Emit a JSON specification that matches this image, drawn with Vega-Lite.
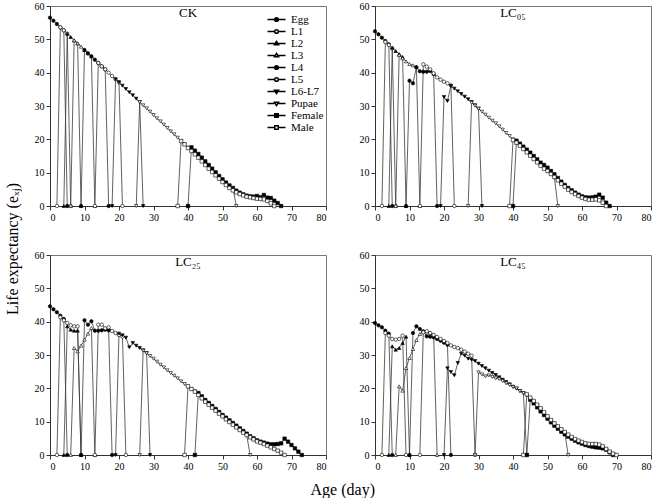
{
"$schema": "https://vega.github.io/schema/vega-lite/v6.json",
"padding": {"left": 4, "top": 0, "right": 1, "bottom": 0},
"config": {
 "font": "Liberation Serif",
 "view": {"stroke": "#777", "strokeWidth": 1},
 "axis": {"grid": false, "labelFont": "Liberation Serif", "labelFontSize": 10, "labelColor": "#000", "domainColor": "#333", "tickColor": "#333", "tickSize": 4, "labelPadding": 2},
 "title": {"font": "Liberation Serif", "fontWeight": "normal", "color": "#000"}
},
"datasets": {
"CK": [
{"s":"Egg","x":0,"y":56.5},{"s":"Egg","x":1,"y":55.6},{"s":"Egg","x":2,"y":54.6},{"s":"Egg","x":3,"y":53.6},{"s":"Egg","x":4,"y":52.7},{"s":"Egg","x":5,"y":0},
{"s":"L1","x":2,"y":0},{"s":"L1","x":3,"y":53.6},{"s":"L1","x":4,"y":52.7},{"s":"L1","x":5,"y":51.7},{"s":"L1","x":6,"y":0},
{"s":"L2","x":4,"y":0},{"s":"L2","x":5,"y":51.7},{"s":"L2","x":6,"y":50.7},{"s":"L2","x":7,"y":49.7},{"s":"L2","x":8,"y":48.8},{"s":"L2","x":9,"y":0},
{"s":"L3","x":6,"y":0},{"s":"L3","x":7,"y":49.7},{"s":"L3","x":8,"y":48.8},{"s":"L3","x":9,"y":47.8},{"s":"L3","x":10,"y":46.8},{"s":"L3","x":11,"y":45.8},{"s":"L3","x":12,"y":44.9},{"s":"L3","x":13,"y":0},
{"s":"L4","x":9,"y":0},{"s":"L4","x":10,"y":46.8},{"s":"L4","x":11,"y":45.8},{"s":"L4","x":12,"y":44.9},{"s":"L4","x":13,"y":43.9},{"s":"L4","x":14,"y":42.9},{"s":"L4","x":15,"y":41.9},{"s":"L4","x":16,"y":41.0},{"s":"L4","x":17,"y":0},
{"s":"L5","x":13,"y":0},{"s":"L5","x":14,"y":42.9},{"s":"L5","x":15,"y":41.9},{"s":"L5","x":16,"y":41.0},{"s":"L5","x":17,"y":40.0},{"s":"L5","x":18,"y":39.0},{"s":"L5","x":19,"y":38.0},{"s":"L5","x":20,"y":37.1},{"s":"L5","x":21,"y":0},
{"s":"L6-L7","x":18,"y":0},{"s":"L6-L7","x":19,"y":38.0},{"s":"L6-L7","x":20,"y":37.1},{"s":"L6-L7","x":21,"y":36.1},{"s":"L6-L7","x":22,"y":35.1},{"s":"L6-L7","x":23,"y":34.1},{"s":"L6-L7","x":24,"y":33.2},{"s":"L6-L7","x":25,"y":32.2},{"s":"L6-L7","x":26,"y":31.2},{"s":"L6-L7","x":27,"y":0},
{"s":"Pupae","x":25,"y":0},{"s":"Pupae","x":26,"y":31.2},{"s":"Pupae","x":27,"y":30.2},{"s":"Pupae","x":28,"y":29.3},{"s":"Pupae","x":29,"y":28.3},{"s":"Pupae","x":30,"y":27.3},{"s":"Pupae","x":31,"y":26.3},{"s":"Pupae","x":32,"y":25.4},{"s":"Pupae","x":33,"y":24.4},{"s":"Pupae","x":34,"y":23.4},{"s":"Pupae","x":35,"y":22.4},{"s":"Pupae","x":36,"y":21.5},{"s":"Pupae","x":37,"y":20.5},{"s":"Pupae","x":38,"y":19.5},{"s":"Pupae","x":39,"y":18.5},{"s":"Pupae","x":40,"y":17.5},{"s":"Pupae","x":41,"y":16.6},{"s":"Pupae","x":42,"y":15.6},{"s":"Pupae","x":43,"y":14.6},{"s":"Pupae","x":44,"y":13.6},{"s":"Pupae","x":45,"y":12.6},{"s":"Pupae","x":46,"y":11.6},{"s":"Pupae","x":47,"y":10.6},{"s":"Pupae","x":48,"y":9.6},{"s":"Pupae","x":49,"y":8.7},{"s":"Pupae","x":50,"y":7.8},{"s":"Pupae","x":51,"y":7.0},{"s":"Pupae","x":52,"y":6.2},{"s":"Pupae","x":53,"y":5.5},{"s":"Pupae","x":54,"y":0},
{"s":"Female","x":40,"y":0},{"s":"Female","x":41,"y":17.6},{"s":"Female","x":42,"y":16.6},{"s":"Female","x":43,"y":15.6},{"s":"Female","x":44,"y":14.5},{"s":"Female","x":45,"y":13.4},{"s":"Female","x":46,"y":12.3},{"s":"Female","x":47,"y":11.2},{"s":"Female","x":48,"y":10.1},{"s":"Female","x":49,"y":9.0},{"s":"Female","x":50,"y":8.0},{"s":"Female","x":51,"y":7.0},{"s":"Female","x":52,"y":6.1},{"s":"Female","x":53,"y":5.3},{"s":"Female","x":54,"y":4.6},{"s":"Female","x":55,"y":4.0},{"s":"Female","x":56,"y":3.5},{"s":"Female","x":57,"y":3.1},{"s":"Female","x":58,"y":2.9},{"s":"Female","x":59,"y":2.8},{"s":"Female","x":60,"y":3.0},{"s":"Female","x":61,"y":2.6},{"s":"Female","x":62,"y":3.3},{"s":"Female","x":63,"y":2.5},{"s":"Female","x":64,"y":2.4},{"s":"Female","x":65,"y":1.6},{"s":"Female","x":66,"y":0.9},{"s":"Female","x":67,"y":0},
{"s":"Male","x":37,"y":0},{"s":"Male","x":38,"y":19.5},{"s":"Male","x":39,"y":18.5},{"s":"Male","x":40,"y":17.4},{"s":"Male","x":41,"y":16.5},{"s":"Male","x":42,"y":15.5},{"s":"Male","x":43,"y":14.5},{"s":"Male","x":44,"y":13.4},{"s":"Male","x":45,"y":12.3},{"s":"Male","x":46,"y":11.2},{"s":"Male","x":47,"y":10.2},{"s":"Male","x":48,"y":9.2},{"s":"Male","x":49,"y":8.2},{"s":"Male","x":50,"y":7.2},{"s":"Male","x":51,"y":6.3},{"s":"Male","x":52,"y":5.4},{"s":"Male","x":53,"y":4.7},{"s":"Male","x":54,"y":4.1},{"s":"Male","x":55,"y":3.6},{"s":"Male","x":56,"y":3.2},{"s":"Male","x":57,"y":2.8},{"s":"Male","x":58,"y":2.6},{"s":"Male","x":59,"y":2.4},{"s":"Male","x":60,"y":2.2},{"s":"Male","x":61,"y":2.1},{"s":"Male","x":62,"y":2.0},{"s":"Male","x":63,"y":1.5},{"s":"Male","x":64,"y":0.8},{"s":"Male","x":65,"y":0}
],
"LC05": [
{"s":"Egg","x":0,"y":52.4},{"s":"Egg","x":1,"y":51.5},{"s":"Egg","x":2,"y":50.5},{"s":"Egg","x":3,"y":49.5},{"s":"Egg","x":4,"y":48.5},{"s":"Egg","x":5,"y":0},
{"s":"L1","x":2,"y":0},{"s":"L1","x":3,"y":49.2},{"s":"L1","x":4,"y":48.3},{"s":"L1","x":5,"y":47.3},{"s":"L1","x":6,"y":0},
{"s":"L2","x":4,"y":0},{"s":"L2","x":5,"y":47.5},{"s":"L2","x":6,"y":46.5},{"s":"L2","x":7,"y":45.6},{"s":"L2","x":8,"y":44.7},{"s":"L2","x":9,"y":0},
{"s":"L3","x":6,"y":0},{"s":"L3","x":7,"y":45.3},{"s":"L3","x":8,"y":44.3},{"s":"L3","x":9,"y":43.4},{"s":"L3","x":10,"y":42.6},{"s":"L3","x":11,"y":42.2},{"s":"L3","x":12,"y":41.8},{"s":"L3","x":13,"y":0},
{"s":"L4","x":9,"y":0},{"s":"L4","x":10,"y":37.6},{"s":"L4","x":11,"y":36.8},{"s":"L4","x":12,"y":41.6},{"s":"L4","x":13,"y":40.4},{"s":"L4","x":14,"y":40.3},{"s":"L4","x":15,"y":40.3},{"s":"L4","x":16,"y":40.5},{"s":"L4","x":17,"y":39.6},{"s":"L4","x":18,"y":0},
{"s":"L5","x":13,"y":0},{"s":"L5","x":14,"y":42.5},{"s":"L5","x":15,"y":41.8},{"s":"L5","x":16,"y":41.0},{"s":"L5","x":17,"y":39.8},{"s":"L5","x":18,"y":38.6},{"s":"L5","x":19,"y":37.9},{"s":"L5","x":20,"y":37.3},{"s":"L5","x":21,"y":36.8},{"s":"L5","x":22,"y":36.2},{"s":"L5","x":23,"y":0},
{"s":"L6-L7","x":19,"y":0},{"s":"L6-L7","x":20,"y":32.7},{"s":"L6-L7","x":21,"y":31.5},{"s":"L6-L7","x":22,"y":36.0},{"s":"L6-L7","x":23,"y":35.2},{"s":"L6-L7","x":24,"y":34.4},{"s":"L6-L7","x":25,"y":33.6},{"s":"L6-L7","x":26,"y":32.8},{"s":"L6-L7","x":27,"y":32.0},{"s":"L6-L7","x":28,"y":31.2},{"s":"L6-L7","x":29,"y":30.2},{"s":"L6-L7","x":30,"y":29.2},{"s":"L6-L7","x":31,"y":0},
{"s":"Pupae","x":27,"y":0},{"s":"Pupae","x":28,"y":31.0},{"s":"Pupae","x":29,"y":30.1},{"s":"Pupae","x":30,"y":29.2},{"s":"Pupae","x":31,"y":28.3},{"s":"Pupae","x":32,"y":27.4},{"s":"Pupae","x":33,"y":26.5},{"s":"Pupae","x":34,"y":25.6},{"s":"Pupae","x":35,"y":24.8},{"s":"Pupae","x":36,"y":23.9},{"s":"Pupae","x":37,"y":22.9},{"s":"Pupae","x":38,"y":21.9},{"s":"Pupae","x":39,"y":21.0},{"s":"Pupae","x":40,"y":20.0},{"s":"Pupae","x":41,"y":19.2},{"s":"Pupae","x":42,"y":18.2},{"s":"Pupae","x":43,"y":17.2},{"s":"Pupae","x":44,"y":16.2},{"s":"Pupae","x":45,"y":15.2},{"s":"Pupae","x":46,"y":14.2},{"s":"Pupae","x":47,"y":13.2},{"s":"Pupae","x":48,"y":12.2},{"s":"Pupae","x":49,"y":11.3},{"s":"Pupae","x":50,"y":10.5},{"s":"Pupae","x":51,"y":9.6},{"s":"Pupae","x":52,"y":8.6},{"s":"Pupae","x":53,"y":0},
{"s":"Female","x":40,"y":0},{"s":"Female","x":41,"y":19.6},{"s":"Female","x":42,"y":18.7},{"s":"Female","x":43,"y":17.8},{"s":"Female","x":44,"y":16.9},{"s":"Female","x":45,"y":16.0},{"s":"Female","x":46,"y":15.0},{"s":"Female","x":47,"y":14.0},{"s":"Female","x":48,"y":13.0},{"s":"Female","x":49,"y":12.3},{"s":"Female","x":50,"y":11.5},{"s":"Female","x":51,"y":10.5},{"s":"Female","x":52,"y":9.5},{"s":"Female","x":53,"y":8.4},{"s":"Female","x":54,"y":7.3},{"s":"Female","x":55,"y":6.3},{"s":"Female","x":56,"y":5.4},{"s":"Female","x":57,"y":4.7},{"s":"Female","x":58,"y":4.0},{"s":"Female","x":59,"y":3.4},{"s":"Female","x":60,"y":2.9},{"s":"Female","x":61,"y":2.6},{"s":"Female","x":62,"y":2.5},{"s":"Female","x":63,"y":2.6},{"s":"Female","x":64,"y":2.8},{"s":"Female","x":65,"y":3.4},{"s":"Female","x":66,"y":2.5},{"s":"Female","x":67,"y":1.0},{"s":"Female","x":68,"y":0},
{"s":"Male","x":39,"y":0},{"s":"Male","x":40,"y":19.8},{"s":"Male","x":41,"y":19.0},{"s":"Male","x":42,"y":18.1},{"s":"Male","x":43,"y":17.1},{"s":"Male","x":44,"y":16.1},{"s":"Male","x":45,"y":15.1},{"s":"Male","x":46,"y":14.1},{"s":"Male","x":47,"y":13.1},{"s":"Male","x":48,"y":12.1},{"s":"Male","x":49,"y":11.2},{"s":"Male","x":50,"y":10.5},{"s":"Male","x":51,"y":9.6},{"s":"Male","x":52,"y":8.7},{"s":"Male","x":53,"y":7.7},{"s":"Male","x":54,"y":6.7},{"s":"Male","x":55,"y":5.8},{"s":"Male","x":56,"y":4.9},{"s":"Male","x":57,"y":4.2},{"s":"Male","x":58,"y":3.6},{"s":"Male","x":59,"y":3.0},{"s":"Male","x":60,"y":2.5},{"s":"Male","x":61,"y":2.1},{"s":"Male","x":62,"y":1.9},{"s":"Male","x":63,"y":1.9},{"s":"Male","x":64,"y":2.0},{"s":"Male","x":65,"y":1.7},{"s":"Male","x":66,"y":1.0},{"s":"Male","x":67,"y":0}
],
"LC25": [
{"s":"Egg","x":0,"y":44.6},{"s":"Egg","x":1,"y":43.7},{"s":"Egg","x":2,"y":42.8},{"s":"Egg","x":3,"y":41.8},{"s":"Egg","x":4,"y":40.8},{"s":"Egg","x":5,"y":0},
{"s":"L1","x":2,"y":0},{"s":"L1","x":3,"y":41.3},{"s":"L1","x":4,"y":40.4},{"s":"L1","x":5,"y":39.6},{"s":"L1","x":6,"y":38.9},{"s":"L1","x":7,"y":38.6},{"s":"L1","x":8,"y":38.6},{"s":"L1","x":9,"y":0},
{"s":"L2","x":4,"y":0},{"s":"L2","x":5,"y":38.6},{"s":"L2","x":6,"y":37.6},{"s":"L2","x":7,"y":37.3},{"s":"L2","x":8,"y":37.3},{"s":"L2","x":9,"y":0},
{"s":"L3","x":6,"y":0},{"s":"L3","x":7,"y":32.1},{"s":"L3","x":8,"y":31.1},{"s":"L3","x":9,"y":32.8},{"s":"L3","x":10,"y":34.6},{"s":"L3","x":11,"y":36.4},{"s":"L3","x":12,"y":38.1},{"s":"L3","x":13,"y":0},
{"s":"L4","x":9,"y":0},{"s":"L4","x":10,"y":40.4},{"s":"L4","x":11,"y":39.1},{"s":"L4","x":12,"y":40.1},{"s":"L4","x":13,"y":37.3},{"s":"L4","x":14,"y":37.3},{"s":"L4","x":15,"y":37.4},{"s":"L4","x":16,"y":37.6},{"s":"L4","x":17,"y":37.4},{"s":"L4","x":18,"y":0},
{"s":"L5","x":13,"y":0},{"s":"L5","x":14,"y":39.1},{"s":"L5","x":15,"y":39.1},{"s":"L5","x":16,"y":38.0},{"s":"L5","x":17,"y":38.3},{"s":"L5","x":18,"y":37.2},{"s":"L5","x":19,"y":36.6},{"s":"L5","x":20,"y":36.0},{"s":"L5","x":21,"y":35.5},{"s":"L5","x":22,"y":0},
{"s":"L6-L7","x":19,"y":0},{"s":"L6-L7","x":20,"y":36.4},{"s":"L6-L7","x":21,"y":35.9},{"s":"L6-L7","x":22,"y":35.2},{"s":"L6-L7","x":23,"y":32.3},{"s":"L6-L7","x":24,"y":33.6},{"s":"L6-L7","x":25,"y":32.8},{"s":"L6-L7","x":26,"y":32.1},{"s":"L6-L7","x":27,"y":31.4},{"s":"L6-L7","x":28,"y":30.6},{"s":"L6-L7","x":29,"y":0},
{"s":"Pupae","x":26,"y":0},{"s":"Pupae","x":27,"y":31.3},{"s":"Pupae","x":28,"y":30.5},{"s":"Pupae","x":29,"y":29.7},{"s":"Pupae","x":30,"y":28.9},{"s":"Pupae","x":31,"y":28.0},{"s":"Pupae","x":32,"y":27.1},{"s":"Pupae","x":33,"y":26.3},{"s":"Pupae","x":34,"y":25.4},{"s":"Pupae","x":35,"y":24.6},{"s":"Pupae","x":36,"y":23.8},{"s":"Pupae","x":37,"y":23.0},{"s":"Pupae","x":38,"y":22.1},{"s":"Pupae","x":39,"y":21.3},{"s":"Pupae","x":40,"y":20.5},{"s":"Pupae","x":41,"y":19.8},{"s":"Pupae","x":42,"y":19.1},{"s":"Pupae","x":43,"y":18.3},{"s":"Pupae","x":44,"y":17.2},{"s":"Pupae","x":45,"y":16.1},{"s":"Pupae","x":46,"y":15.3},{"s":"Pupae","x":47,"y":14.4},{"s":"Pupae","x":48,"y":13.5},{"s":"Pupae","x":49,"y":12.7},{"s":"Pupae","x":50,"y":11.8},{"s":"Pupae","x":51,"y":11.0},{"s":"Pupae","x":52,"y":10.1},{"s":"Pupae","x":53,"y":9.3},{"s":"Pupae","x":54,"y":8.5},{"s":"Pupae","x":55,"y":7.7},{"s":"Pupae","x":56,"y":6.9},{"s":"Pupae","x":57,"y":6.1},{"s":"Pupae","x":58,"y":0},
{"s":"Female","x":42,"y":0},{"s":"Female","x":43,"y":18.6},{"s":"Female","x":44,"y":17.6},{"s":"Female","x":45,"y":16.5},{"s":"Female","x":46,"y":15.6},{"s":"Female","x":47,"y":14.7},{"s":"Female","x":48,"y":13.8},{"s":"Female","x":49,"y":12.9},{"s":"Female","x":50,"y":12.0},{"s":"Female","x":51,"y":11.2},{"s":"Female","x":52,"y":10.4},{"s":"Female","x":53,"y":9.6},{"s":"Female","x":54,"y":8.8},{"s":"Female","x":55,"y":8.0},{"s":"Female","x":56,"y":7.2},{"s":"Female","x":57,"y":6.4},{"s":"Female","x":58,"y":5.6},{"s":"Female","x":59,"y":5.0},{"s":"Female","x":60,"y":4.4},{"s":"Female","x":61,"y":4.0},{"s":"Female","x":62,"y":3.7},{"s":"Female","x":63,"y":3.4},{"s":"Female","x":64,"y":3.2},{"s":"Female","x":65,"y":3.2},{"s":"Female","x":66,"y":3.3},{"s":"Female","x":67,"y":3.5},{"s":"Female","x":68,"y":4.9},{"s":"Female","x":69,"y":4.0},{"s":"Female","x":70,"y":3.0},{"s":"Female","x":71,"y":2.0},{"s":"Female","x":72,"y":1.0},{"s":"Female","x":73,"y":0},
{"s":"Male","x":39,"y":0},{"s":"Male","x":40,"y":20.6},{"s":"Male","x":41,"y":19.8},{"s":"Male","x":42,"y":19.0},{"s":"Male","x":43,"y":18.0},{"s":"Male","x":44,"y":17.0},{"s":"Male","x":45,"y":16.0},{"s":"Male","x":46,"y":15.1},{"s":"Male","x":47,"y":14.2},{"s":"Male","x":48,"y":13.3},{"s":"Male","x":49,"y":12.4},{"s":"Male","x":50,"y":11.6},{"s":"Male","x":51,"y":10.7},{"s":"Male","x":52,"y":9.9},{"s":"Male","x":53,"y":9.1},{"s":"Male","x":54,"y":8.3},{"s":"Male","x":55,"y":7.5},{"s":"Male","x":56,"y":6.7},{"s":"Male","x":57,"y":6.0},{"s":"Male","x":58,"y":5.3},{"s":"Male","x":59,"y":4.7},{"s":"Male","x":60,"y":4.1},{"s":"Male","x":61,"y":3.7},{"s":"Male","x":62,"y":3.3},{"s":"Male","x":63,"y":2.8},{"s":"Male","x":64,"y":2.3},{"s":"Male","x":65,"y":1.8},{"s":"Male","x":66,"y":1.3},{"s":"Male","x":67,"y":0.7},{"s":"Male","x":68,"y":0}
],
"LC45": [
{"s":"Egg","x":0,"y":39.6},{"s":"Egg","x":1,"y":38.9},{"s":"Egg","x":2,"y":38.3},{"s":"Egg","x":3,"y":37.3},{"s":"Egg","x":4,"y":36.4},{"s":"Egg","x":5,"y":0},
{"s":"L1","x":2,"y":0},{"s":"L1","x":3,"y":36.6},{"s":"L1","x":4,"y":35.8},{"s":"L1","x":5,"y":34.8},{"s":"L1","x":6,"y":34.6},{"s":"L1","x":7,"y":34.8},{"s":"L1","x":8,"y":35.8},{"s":"L1","x":9,"y":0},
{"s":"L2","x":4,"y":0},{"s":"L2","x":5,"y":32.6},{"s":"L2","x":6,"y":31.6},{"s":"L2","x":7,"y":32.1},{"s":"L2","x":8,"y":33.6},{"s":"L2","x":9,"y":35.5},{"s":"L2","x":10,"y":0},
{"s":"L3","x":6,"y":0},{"s":"L3","x":7,"y":20.6},{"s":"L3","x":8,"y":19.3},{"s":"L3","x":9,"y":26.1},{"s":"L3","x":10,"y":29.1},{"s":"L3","x":11,"y":31.8},{"s":"L3","x":12,"y":34.5},{"s":"L3","x":13,"y":36.3},{"s":"L3","x":14,"y":37.0},{"s":"L3","x":15,"y":37.1},{"s":"L3","x":16,"y":36.6},{"s":"L3","x":17,"y":36.0},{"s":"L3","x":18,"y":0},
{"s":"L4","x":10,"y":0},{"s":"L4","x":11,"y":36.6},{"s":"L4","x":12,"y":38.6},{"s":"L4","x":13,"y":37.8},{"s":"L4","x":14,"y":37.1},{"s":"L4","x":15,"y":35.6},{"s":"L4","x":16,"y":35.5},{"s":"L4","x":17,"y":35.3},{"s":"L4","x":18,"y":34.8},{"s":"L4","x":19,"y":34.3},{"s":"L4","x":20,"y":33.7},{"s":"L4","x":21,"y":33.1},{"s":"L4","x":22,"y":0},
{"s":"L5","x":13,"y":0},{"s":"L5","x":14,"y":36.8},{"s":"L5","x":15,"y":37.1},{"s":"L5","x":16,"y":36.6},{"s":"L5","x":17,"y":36.0},{"s":"L5","x":18,"y":35.4},{"s":"L5","x":19,"y":34.8},{"s":"L5","x":20,"y":34.2},{"s":"L5","x":21,"y":33.6},{"s":"L5","x":22,"y":32.9},{"s":"L5","x":23,"y":32.4},{"s":"L5","x":24,"y":32.1},{"s":"L5","x":25,"y":31.6},{"s":"L5","x":26,"y":31.0},{"s":"L5","x":27,"y":30.4},{"s":"L5","x":28,"y":29.8},{"s":"L5","x":29,"y":0},
{"s":"L6-L7","x":20,"y":0},{"s":"L6-L7","x":21,"y":26.0},{"s":"L6-L7","x":22,"y":24.9},{"s":"L6-L7","x":23,"y":23.9},{"s":"L6-L7","x":24,"y":27.6},{"s":"L6-L7","x":25,"y":30.4},{"s":"L6-L7","x":26,"y":29.8},{"s":"L6-L7","x":27,"y":28.9},{"s":"L6-L7","x":28,"y":28.6},{"s":"L6-L7","x":29,"y":28.2},{"s":"L6-L7","x":30,"y":27.4},{"s":"L6-L7","x":31,"y":26.7},{"s":"L6-L7","x":32,"y":26.0},{"s":"L6-L7","x":33,"y":25.3},{"s":"L6-L7","x":34,"y":24.6},{"s":"L6-L7","x":35,"y":24.0},{"s":"L6-L7","x":36,"y":23.3},{"s":"L6-L7","x":37,"y":22.6},{"s":"L6-L7","x":38,"y":21.9},{"s":"L6-L7","x":39,"y":21.2},{"s":"L6-L7","x":40,"y":20.5},{"s":"L6-L7","x":41,"y":19.9},{"s":"L6-L7","x":42,"y":19.2},{"s":"L6-L7","x":43,"y":18.6},{"s":"L6-L7","x":44,"y":0},
{"s":"Pupae","x":29,"y":0},{"s":"Pupae","x":30,"y":24.8},{"s":"Pupae","x":31,"y":24.2},{"s":"Pupae","x":32,"y":23.6},{"s":"Pupae","x":33,"y":23.9},{"s":"Pupae","x":34,"y":23.4},{"s":"Pupae","x":35,"y":23.0},{"s":"Pupae","x":36,"y":22.8},{"s":"Pupae","x":37,"y":22.2},{"s":"Pupae","x":38,"y":21.5},{"s":"Pupae","x":39,"y":21.0},{"s":"Pupae","x":40,"y":20.4},{"s":"Pupae","x":41,"y":20.0},{"s":"Pupae","x":42,"y":19.2},{"s":"Pupae","x":43,"y":18.6},{"s":"Pupae","x":44,"y":17.8},{"s":"Pupae","x":45,"y":16.8},{"s":"Pupae","x":46,"y":15.8},{"s":"Pupae","x":47,"y":14.7},{"s":"Pupae","x":48,"y":13.6},{"s":"Pupae","x":49,"y":12.4},{"s":"Pupae","x":50,"y":11.3},{"s":"Pupae","x":51,"y":10.3},{"s":"Pupae","x":52,"y":9.3},{"s":"Pupae","x":53,"y":8.4},{"s":"Pupae","x":54,"y":7.5},{"s":"Pupae","x":55,"y":6.7},{"s":"Pupae","x":56,"y":0},
{"s":"Female","x":44,"y":0},{"s":"Female","x":45,"y":16.6},{"s":"Female","x":46,"y":15.5},{"s":"Female","x":47,"y":14.3},{"s":"Female","x":48,"y":13.1},{"s":"Female","x":49,"y":12.0},{"s":"Female","x":50,"y":10.9},{"s":"Female","x":51,"y":9.8},{"s":"Female","x":52,"y":8.8},{"s":"Female","x":53,"y":7.9},{"s":"Female","x":54,"y":7.0},{"s":"Female","x":55,"y":6.2},{"s":"Female","x":56,"y":5.5},{"s":"Female","x":57,"y":4.9},{"s":"Female","x":58,"y":4.3},{"s":"Female","x":59,"y":3.8},{"s":"Female","x":60,"y":3.4},{"s":"Female","x":61,"y":3.0},{"s":"Female","x":62,"y":2.7},{"s":"Female","x":63,"y":2.5},{"s":"Female","x":64,"y":2.3},{"s":"Female","x":65,"y":2.2},{"s":"Female","x":66,"y":2.0},{"s":"Female","x":67,"y":1.6},{"s":"Female","x":68,"y":0.8},{"s":"Female","x":69,"y":0},
{"s":"Male","x":43,"y":0},{"s":"Male","x":44,"y":18.2},{"s":"Male","x":45,"y":17.2},{"s":"Male","x":46,"y":16.2},{"s":"Male","x":47,"y":15.1},{"s":"Male","x":48,"y":14.0},{"s":"Male","x":49,"y":12.8},{"s":"Male","x":50,"y":11.6},{"s":"Male","x":51,"y":10.5},{"s":"Male","x":52,"y":9.5},{"s":"Male","x":53,"y":8.6},{"s":"Male","x":54,"y":7.7},{"s":"Male","x":55,"y":6.9},{"s":"Male","x":56,"y":6.1},{"s":"Male","x":57,"y":5.4},{"s":"Male","x":58,"y":4.8},{"s":"Male","x":59,"y":4.3},{"s":"Male","x":60,"y":3.9},{"s":"Male","x":61,"y":3.5},{"s":"Male","x":62,"y":3.3},{"s":"Male","x":63,"y":3.3},{"s":"Male","x":64,"y":3.3},{"s":"Male","x":65,"y":3.1},{"s":"Male","x":66,"y":2.6},{"s":"Male","x":67,"y":1.8},{"s":"Male","x":68,"y":1.0},{"s":"Male","x":69,"y":0.4},{"s":"Male","x":70,"y":0}
]
},
"title": {"text": "Life expectancy (eₓⱼ)", "orient": "left", "anchor": "middle", "fontSize": 16, "offset": 13},
"vconcat": [{
 "title": {"text": "Age (day)", "orient": "bottom", "anchor": "middle", "fontSize": 16, "offset": 10},
 "spacing": 26,
 "vconcat": [
  {"spacing": 31, "hconcat": [
   {"width": 276, "height": 200, "data": {"name": "CK"},
    "title": {"text": "CK", "offset": -19, "fontSize": 13, "anchor": "middle"},
    "encoding": {
     "x": {"field": "x", "type": "quantitative", "scale": {"domain": [0, 80], "nice": false}, "axis": {"values": [0,10,20,30,40,50,60,70,80]}, "title": null},
     "y": {"field": "y", "type": "quantitative", "scale": {"domain": [0, 60], "nice": false}, "axis": {"values": [0,10,20,30,40,50,60]}, "title": null}
    },
    "resolve": {"scale": {"shape": "independent", "fill": "independent"}},
    "layer": [
     {"mark": {"type": "line", "stroke": "#3a3a3a", "strokeWidth": 0.8}, "encoding": {"detail": {"field": "s"}}},
     {"mark": {"type": "point", "filled": true, "opacity": 1, "size": 12, "stroke": "#000", "strokeWidth": 0.6},
      "encoding": {
       "shape": {"field": "s", "type": "nominal", "legend": null, "scale": {"domain": ["Egg","L1","L2","L3","L4","L5","L6-L7","Pupae","Female","Male"], "range": ["circle","circle","triangle-up","triangle-up","circle","circle","triangle-down","triangle-down","square","square"]}},
       "fill": {"field": "s", "type": "nominal", "legend": null, "scale": {"domain": ["Egg","L1","L2","L3","L4","L5","L6-L7","Pupae","Female","Male"], "range": ["#000","#fff","#000","#fff","#000","#fff","#000","#fff","#000","#fff"]}}
      }},
     {"transform": [{"filter": "false"}],
      "mark": {"type": "point", "filled": true, "opacity": 1, "size": 81, "stroke": "#000", "strokeWidth": 0.8},
      "encoding": {
       "shape": {"field": "s", "type": "nominal",
        "legend": {"title": null, "orient": "none", "legendX": 221, "legendY": 8, "symbolSize": 81, "labelOffset": 9, "labelFontSize": 11, "labelFont": "Liberation Serif", "labelColor": "#000", "rowPadding": 0, "padding": 0,
         "encode": {"symbols": {"update": {"stroke": {"value": "#000"}, "strokeWidth": {"value": 0.8}, "opacity": {"value": 1}}}}},
        "scale": {"domain": ["Egg","L1","L2","L3","L4","L5","L6-L7","Pupae","Female","Male"], "range": [
         "M-2,0H-0.4M0.4,0H2M-0.4,0A0.4,0.4 0 1,0 0.4,0A0.4,0.4 0 1,0 -0.4,0Z",
         "M-2,0H-0.4M0.4,0H2M-0.4,0A0.4,0.4 0 1,0 0.4,0A0.4,0.4 0 1,0 -0.4,0Z",
         "M-2,0H-0.45M0.45,0H2M0,-0.45L0.45,0.3L-0.45,0.3Z",
         "M-2,0H-0.45M0.45,0H2M0,-0.45L0.45,0.3L-0.45,0.3Z",
         "M-2,0H-0.4M0.4,0H2M-0.4,0A0.4,0.4 0 1,0 0.4,0A0.4,0.4 0 1,0 -0.4,0Z",
         "M-2,0H-0.4M0.4,0H2M-0.4,0A0.4,0.4 0 1,0 0.4,0A0.4,0.4 0 1,0 -0.4,0Z",
         "M-2,0H-0.45M0.45,0H2M0,0.45L0.45,-0.3L-0.45,-0.3Z",
         "M-2,0H-0.45M0.45,0H2M0,0.45L0.45,-0.3L-0.45,-0.3Z",
         "M-2,0H-0.38M0.38,0H2M-0.38,-0.38H0.38V0.38H-0.38Z",
         "M-2,0H-0.38M0.38,0H2M-0.38,-0.38H0.38V0.38H-0.38Z"]}},
       "fill": {"field": "s", "type": "nominal",
        "legend": {"title": null, "orient": "none", "legendX": 221, "legendY": 8, "symbolSize": 81, "labelOffset": 9, "labelFontSize": 11, "labelFont": "Liberation Serif", "labelColor": "#000", "rowPadding": 0, "padding": 0,
         "encode": {"symbols": {"update": {"stroke": {"value": "#000"}, "strokeWidth": {"value": 0.8}, "opacity": {"value": 1}}}}},
        "scale": {"domain": ["Egg","L1","L2","L3","L4","L5","L6-L7","Pupae","Female","Male"], "range": ["#000","#fff","#000","#fff","#000","#fff","#000","#fff","#000","#fff"]}}
      }}
    ]},
   {"width": 276, "height": 200, "data": {"name": "LC05"},
    "title": {"text": "LC₀₅", "offset": -19, "fontSize": 13, "anchor": "middle"},
    "encoding": {
     "x": {"field": "x", "type": "quantitative", "scale": {"domain": [0, 80], "nice": false}, "axis": {"values": [0,10,20,30,40,50,60,70,80]}, "title": null},
     "y": {"field": "y", "type": "quantitative", "scale": {"domain": [0, 60], "nice": false}, "axis": {"values": [0,10,20,30,40,50,60]}, "title": null}
    },
    "layer": [
     {"mark": {"type": "line", "stroke": "#3a3a3a", "strokeWidth": 0.8}, "encoding": {"detail": {"field": "s"}}},
     {"mark": {"type": "point", "filled": true, "opacity": 1, "size": 12, "stroke": "#000", "strokeWidth": 0.6},
      "encoding": {
       "shape": {"field": "s", "type": "nominal", "legend": null, "scale": {"domain": ["Egg","L1","L2","L3","L4","L5","L6-L7","Pupae","Female","Male"], "range": ["circle","circle","triangle-up","triangle-up","circle","circle","triangle-down","triangle-down","square","square"]}},
       "fill": {"field": "s", "type": "nominal", "legend": null, "scale": {"domain": ["Egg","L1","L2","L3","L4","L5","L6-L7","Pupae","Female","Male"], "range": ["#000","#fff","#000","#fff","#000","#fff","#000","#fff","#000","#fff"]}}
      }}
    ]}
  ]},
  {"spacing": 31, "hconcat": [
   {"width": 276, "height": 200, "data": {"name": "LC25"},
    "title": {"text": "LC₂₅", "offset": -19, "fontSize": 13, "anchor": "middle"},
    "encoding": {
     "x": {"field": "x", "type": "quantitative", "scale": {"domain": [0, 80], "nice": false}, "axis": {"values": [0,10,20,30,40,50,60,70,80]}, "title": null},
     "y": {"field": "y", "type": "quantitative", "scale": {"domain": [0, 60], "nice": false}, "axis": {"values": [0,10,20,30,40,50,60]}, "title": null}
    },
    "layer": [
     {"mark": {"type": "line", "stroke": "#3a3a3a", "strokeWidth": 0.8}, "encoding": {"detail": {"field": "s"}}},
     {"mark": {"type": "point", "filled": true, "opacity": 1, "size": 12, "stroke": "#000", "strokeWidth": 0.6},
      "encoding": {
       "shape": {"field": "s", "type": "nominal", "legend": null, "scale": {"domain": ["Egg","L1","L2","L3","L4","L5","L6-L7","Pupae","Female","Male"], "range": ["circle","circle","triangle-up","triangle-up","circle","circle","triangle-down","triangle-down","square","square"]}},
       "fill": {"field": "s", "type": "nominal", "legend": null, "scale": {"domain": ["Egg","L1","L2","L3","L4","L5","L6-L7","Pupae","Female","Male"], "range": ["#000","#fff","#000","#fff","#000","#fff","#000","#fff","#000","#fff"]}}
      }}
    ]},
   {"width": 276, "height": 200, "data": {"name": "LC45"},
    "title": {"text": "LC₄₅", "offset": -19, "fontSize": 13, "anchor": "middle"},
    "encoding": {
     "x": {"field": "x", "type": "quantitative", "scale": {"domain": [0, 80], "nice": false}, "axis": {"values": [0,10,20,30,40,50,60,70,80]}, "title": null},
     "y": {"field": "y", "type": "quantitative", "scale": {"domain": [0, 60], "nice": false}, "axis": {"values": [0,10,20,30,40,50,60]}, "title": null}
    },
    "layer": [
     {"mark": {"type": "line", "stroke": "#3a3a3a", "strokeWidth": 0.8}, "encoding": {"detail": {"field": "s"}}},
     {"mark": {"type": "point", "filled": true, "opacity": 1, "size": 12, "stroke": "#000", "strokeWidth": 0.6},
      "encoding": {
       "shape": {"field": "s", "type": "nominal", "legend": null, "scale": {"domain": ["Egg","L1","L2","L3","L4","L5","L6-L7","Pupae","Female","Male"], "range": ["circle","circle","triangle-up","triangle-up","circle","circle","triangle-down","triangle-down","square","square"]}},
       "fill": {"field": "s", "type": "nominal", "legend": null, "scale": {"domain": ["Egg","L1","L2","L3","L4","L5","L6-L7","Pupae","Female","Male"], "range": ["#000","#fff","#000","#fff","#000","#fff","#000","#fff","#000","#fff"]}}
      }}
    ]}
  ]}
 ]
}]
}
